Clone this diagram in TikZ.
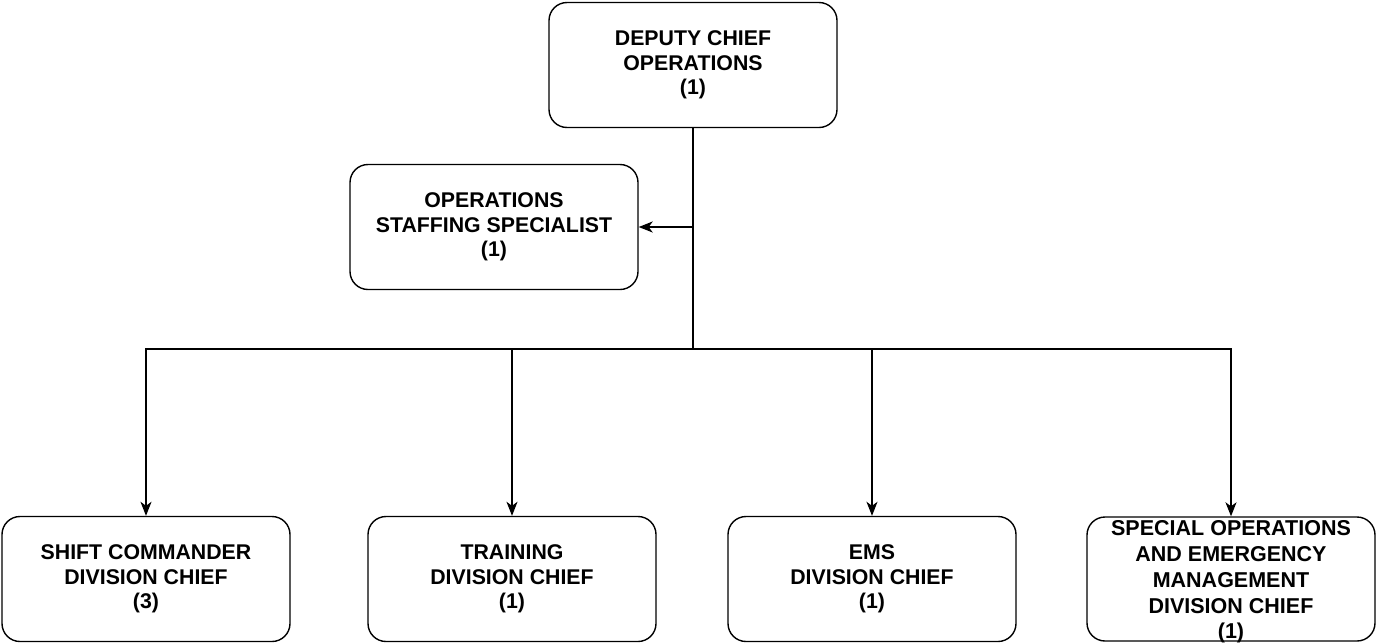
\documentclass[tikz,border=0pt]{standalone}
\usepackage{fontspec}
\setmainfont{Liberation Sans}
\usetikzlibrary{arrows.meta}
\begin{document}
\begin{tikzpicture}[x=1pt,y=-1pt,
  box/.style={draw=black,line width=1.4pt,rounded corners=18pt,minimum width=288pt,minimum height=125pt,
    align=center,font=\fontsize{21.3}{24.5}\selectfont\bfseries,inner sep=0pt},
  conn/.style={line width=1.4pt},
  arr/.style={conn,-{Stealth[length=14pt,width=11pt,inset=4pt]}}]
\useasboundingbox (0,0) rectangle (1376,643);
\node[box] (dep) at (693,65) {DEPUTY CHIEF\\OPERATIONS\\(1)};
\node[box] (ops) at (494,227) {OPERATIONS\\STAFFING SPECIALIST\\(1)};
\node[box] (shift) at (146,579) {SHIFT COMMANDER\\DIVISION CHIEF\\(3)};
\node[box] (train) at (512,579) {TRAINING\\DIVISION CHIEF\\(1)};
\node[box] (ems) at (872,579) {EMS\\DIVISION CHIEF\\(1)};
\node[box,minimum height=124pt] (spec) at (1231,579) {};
\node[align=center,font=\fontsize{21.5}{25.8}\selectfont\bfseries,inner sep=0pt] (spect) at (1231,582) {SPECIAL OPERATIONS\\AND EMERGENCY\\MANAGEMENT\\DIVISION CHIEF\\(1)};
\coordinate (j1) at (dep.south |- ops.east);
\coordinate (j2) at (693,349);
\draw[conn] (dep.south) -- (j2);
\draw[arr] (j1) -- (ops.east);
\draw[arr] (j2) -| (shift.north);
\draw[arr] (j2) -| (train.north);
\draw[arr] (j2) -| (ems.north);
\draw[arr] (j2) -| (spec.north);
\end{tikzpicture}
\end{document}
